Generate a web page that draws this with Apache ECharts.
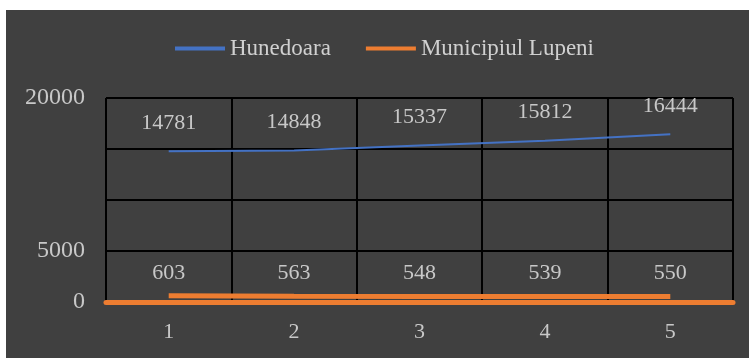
<!DOCTYPE html>
<html>
<head>
<meta charset="utf-8">
<script src="https://cdn.jsdelivr.net/npm/echarts@6/dist/echarts.min.js"></script>
<style>
  html, body { margin: 0; padding: 0; background: #ffffff; }
  #chart { position: absolute; left: 6px; top: 10px; width: 743px; height: 348px; background: #404040; }
</style>
</head>
<body>
<div id="chart"></div>
<script>
// Series data
const categories = ['1', '2', '3', '4', '5'];
const hunedoara = [14781, 14848, 15337, 15812, 16444];
const lupeni = [603, 563, 548, 539, 550];
const yTickLabels = [0, 5000, 20000];

const FONT = 'Liberation Serif';
const TEXT = '#c8c8c8';

const chart = echarts.init(document.getElementById('chart'), null, { renderer: 'canvas' });

// Value labels sit above each point; the point markers are too small to see
function valueLabel(distance) {
  return {
    show: true,
    position: 'top',
    distance: distance,
    color: TEXT,
    fontFamily: FONT,
    fontSize: 22
  };
}

chart.setOption({
  backgroundColor: '#404040',
  animation: false,
  legend: {
    top: 22,
    left: 164,
    itemWidth: 50,
    itemHeight: 4,
    itemGap: 35,
    icon: 'rect',
    textStyle: { color: '#d0d0d0', fontFamily: FONT, fontSize: 23 },
    data: ['Hunedoara', 'Municipiul Lupeni']
  },
  grid: { left: 100, right: 16, top: 88, bottom: 56, containLabel: false },
  xAxis: {
    type: 'category',
    data: categories,
    boundaryGap: true,
    axisLine: { show: true, lineStyle: { color: '#ED7D31', width: 5 } },
    axisTick: { show: false },
    axisLabel: { color: TEXT, fontFamily: FONT, fontSize: 22, margin: 19 },
    splitLine: { show: true, lineStyle: { color: '#000000', width: 2 } }
  },
  yAxis: {
    type: 'value',
    min: 0,
    max: 20000,
    interval: 5000,
    axisLine: { show: false },
    axisTick: { show: false },
    axisLabel: {
      color: TEXT,
      fontFamily: FONT,
      fontSize: 24,
      margin: 21,
      formatter: v => (yTickLabels.indexOf(v) >= 0 ? String(v) : '')
    },
    splitLine: { show: true, lineStyle: { color: '#000000', width: 2 } }
  },
  series: [
    {
      name: 'Hunedoara',
      type: 'line',
      data: hunedoara,
      showSymbol: true,
      symbol: 'circle',
      symbolSize: 0.1,
      itemStyle: { color: '#4472C4' },
      lineStyle: { color: '#4472C4', width: 2 },
      label: valueLabel(17)
    },
    {
      name: 'Municipiul Lupeni',
      type: 'line',
      data: lupeni,
      showSymbol: true,
      symbol: 'circle',
      symbolSize: 0.1,
      itemStyle: { color: '#ED7D31' },
      lineStyle: { color: '#ED7D31', width: 5 },
      label: valueLabel(12)
    }
  ]
});
</script>
</body>
</html>
